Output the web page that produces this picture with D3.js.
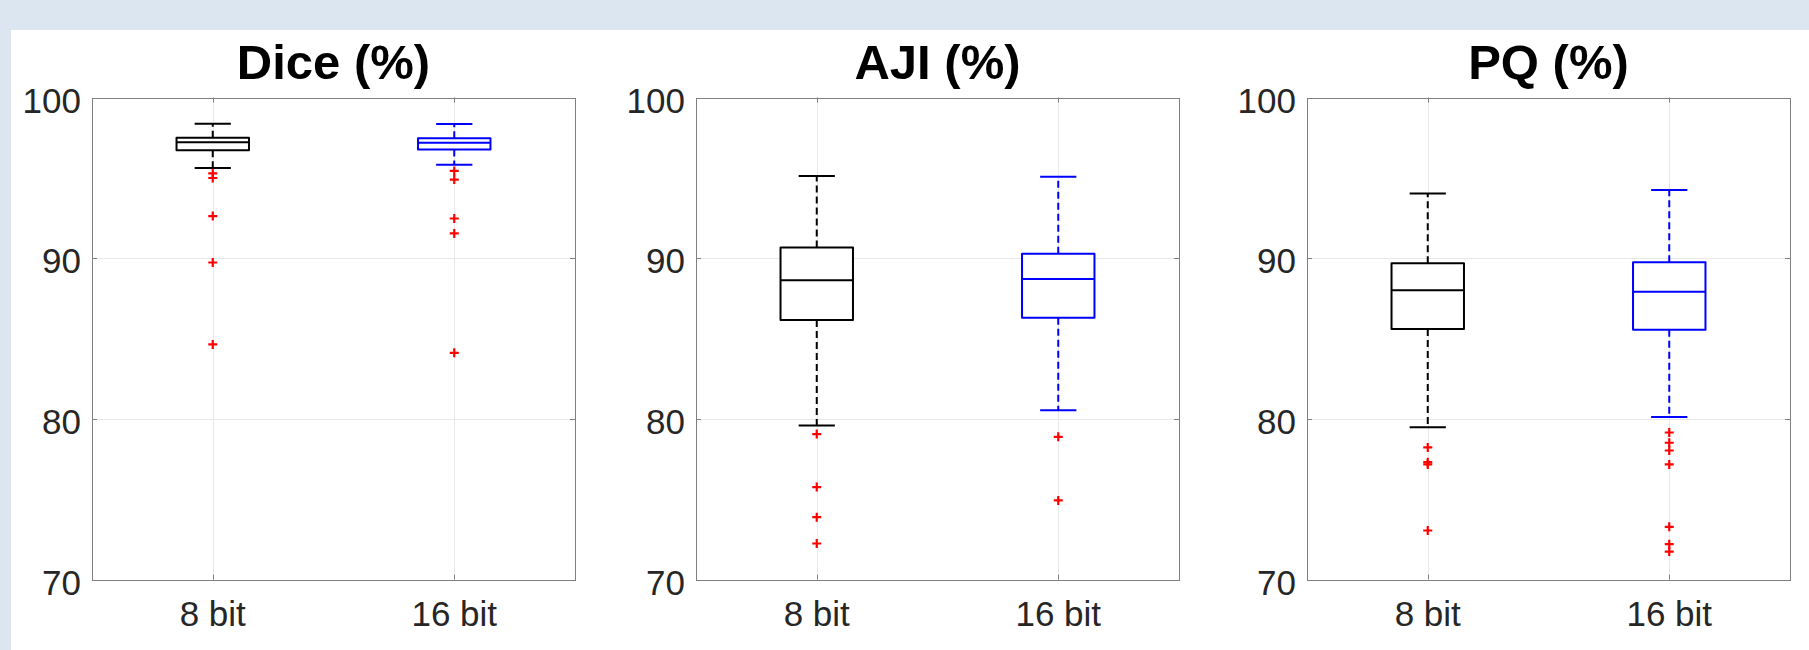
<!DOCTYPE html>
<html>
<head>
<meta charset="utf-8">
<script src="https://cdn.jsdelivr.net/npm/d3@7"></script>
<style>
    html, body {
        margin: 0;
        padding: 0;
        background: #dce6f1;
    }
    .chart-box {
        position: absolute;
        left: 11px;
        top: 30px;
        width: 1798px;
        height: 620px;
        background: white;
    }
    svg {
        position: absolute;
        left: 0;
        top: 0;
        font-family: "Liberation Sans", Arial, sans-serif;
    }
</style>
</head>
<body>
<div class="chart-box"></div>
<svg class="chart" width="1809" height="650"></svg>
<script>
var groups = ['8 bit', '16 bit'];
var groupColors = ['#000000', '#0000ff'];
var titles = ['Dice (%)', 'AJI (%)', 'PQ (%)'];
var yTicks = [70, 80, 90, 100];

// lo whisker, q1, median, q3, hi whisker, outliers
var diceStats = [
    { lo: 95.61, q1: 96.71, med: 97.21, q3: 97.50, hi: 98.37, out: [95.28, 94.99, 92.62, 89.73, 84.63] },
    { lo: 95.82, q1: 96.77, med: 97.19, q3: 97.46, hi: 98.35, out: [95.43, 94.89, 92.47, 91.54, 84.11] }
];
var ajiStats = [
    { lo: 79.59, q1: 86.15, med: 88.62, q3: 90.67, hi: 95.11, out: [79.05, 75.75, 73.88, 72.24] },
    { lo: 80.54, q1: 86.29, med: 88.70, q3: 90.27, hi: 95.07, out: [78.88, 74.92] }
];
var pqStats = [
    { lo: 79.48, q1: 85.59, med: 88.01, q3: 89.68, hi: 94.03, out: [78.22, 77.30, 77.16, 73.05] },
    { lo: 80.11, q1: 85.54, med: 87.91, q3: 89.74, hi: 94.24, out: [79.15, 78.51, 78.03, 77.16, 73.28, 72.20, 71.74] }
];

var panels = [
    { title: titles[0], stats: diceStats, left: 92 },
    { title: titles[1], stats: ajiStats, left: 696 },
    { title: titles[2], stats: pqStats, left: 1307 }
];

draw();

function draw() {
    var top = 97.5;
    var width = 483;
    var height = 482;
    var tickLen = 5;
    var axisColor = '#808080';

    var svg = d3.select('.chart');

    var y = d3.scaleLinear()
        .domain([70, 100])
        .range([top + height, top]);

    panels.forEach(function (p) {
        var x = d3.scaleLinear()
            .domain([0.5, 2.5])
            .range([p.left, p.left + width]);

        var g = svg.append('g');

        // grid
        g.selectAll('.hgrid')
            .data(yTicks.slice(1, -1))
            .enter()
            .append('line')
            .attr('x1', p.left)
            .attr('x2', p.left + width)
            .attr('y1', function (d) { return Math.round(y(d)) + 0.5; })
            .attr('y2', function (d) { return Math.round(y(d)) + 0.5; })
            .attr('stroke', '#e8e8e8')
            .attr('stroke-width', 1);

        g.selectAll('.vgrid')
            .data(groups)
            .enter()
            .append('line')
            .attr('x1', function (d, i) { return Math.round(x(i + 1)) + 0.5; })
            .attr('x2', function (d, i) { return Math.round(x(i + 1)) + 0.5; })
            .attr('y1', top)
            .attr('y2', top + height)
            .attr('stroke', '#e8e8e8')
            .attr('stroke-width', 1);

        // axes box
        g.append('rect')
            .attr('x', Math.round(p.left) + 0.5)
            .attr('y', Math.round(top) + 0.5)
            .attr('width', width)
            .attr('height', height)
            .attr('fill', 'none')
            .attr('stroke', axisColor)
            .attr('stroke-width', 1);

        // inward ticks on all four sides
        var yt = yTicks.slice(1, -1);
        [p.left, p.left + width].forEach(function (edge, k) {
            var dir = k === 0 ? 1 : -1;
            g.selectAll(null)
                .data(yt)
                .enter()
                .append('line')
                .attr('x1', edge)
                .attr('x2', edge + dir * tickLen)
                .attr('y1', function (d) { return Math.round(y(d)) + 0.5; })
                .attr('y2', function (d) { return Math.round(y(d)) + 0.5; })
                .attr('stroke', axisColor);
        });
        [top, top + height].forEach(function (edge, k) {
            var dir = k === 0 ? 1 : -1;
            g.selectAll(null)
                .data(groups)
                .enter()
                .append('line')
                .attr('x1', function (d, i) { return Math.round(x(i + 1)) + 0.5; })
                .attr('x2', function (d, i) { return Math.round(x(i + 1)) + 0.5; })
                .attr('y1', edge)
                .attr('y2', edge + dir * tickLen)
                .attr('stroke', axisColor);
        });

        // tick labels
        g.selectAll('.ylabel')
            .data(yTicks)
            .enter()
            .append('text')
            .attr('x', p.left - 11)
            .attr('y', function (d) { return y(d) + 15; })
            .attr('text-anchor', 'end')
            .attr('font-size', '35px')
            .attr('fill', '#262626')
            .text(function (d) { return d; });

        g.selectAll('.xlabel')
            .data(groups)
            .enter()
            .append('text')
            .attr('x', function (d, i) { return x(i + 1); })
            .attr('y', 626)
            .attr('text-anchor', 'middle')
            .attr('font-size', '35px')
            .attr('fill', '#262626')
            .text(function (d) { return d; });

        g.append('text')
            .attr('x', p.left + width / 2)
            .attr('y', 79)
            .attr('text-anchor', 'middle')
            .attr('font-size', '49px')
            .attr('font-weight', 'bold')
            .attr('fill', '#000')
            .text(p.title);

        // boxes
        var boxW = 0.3;
        var capW = 0.15;
        p.stats.forEach(function (s, i) {
            var cx = x(i + 1);
            var color = groupColors[i];
            var bx = x(i + 1 - boxW / 2);
            var bw = x(i + 1 + boxW / 2) - bx;
            var b = g.append('g')
                .attr('stroke', color)
                .attr('stroke-width', 2)
                .attr('fill', 'none')
                .attr('stroke-linejoin', 'round');

            // whiskers
            [[s.q3, s.hi], [s.q1, s.lo]].forEach(function (w) {
                b.append('line')
                    .attr('x1', cx)
                    .attr('x2', cx)
                    .attr('y1', y(w[0]))
                    .attr('y2', y(w[1]))
                    .attr('stroke-dasharray', '7,4');
                b.append('line')
                    .attr('x1', x(i + 1 - capW / 2))
                    .attr('x2', x(i + 1 + capW / 2))
                    .attr('y1', y(w[1]))
                    .attr('y2', y(w[1]));
            });

            b.append('rect')
                .attr('x', bx)
                .attr('y', y(s.q3))
                .attr('width', bw)
                .attr('height', y(s.q1) - y(s.q3))
                .attr('fill', 'white');

            b.append('line')
                .attr('x1', bx)
                .attr('x2', bx + bw)
                .attr('y1', y(s.med))
                .attr('y2', y(s.med));

            // outliers as red plus markers
            var m = 4.5;
            g.selectAll(null)
                .data(s.out)
                .enter()
                .append('path')
                .attr('d', function (d) {
                    var py = y(d);
                    return 'M' + (cx - m) + ',' + py + 'H' + (cx + m) +
                        'M' + cx + ',' + (py - m) + 'V' + (py + m);
                })
                .attr('stroke', '#ff0000')
                .attr('stroke-width', 2.2)
                .attr('fill', 'none');
        });
    });
}
</script>
</body>
</html>
